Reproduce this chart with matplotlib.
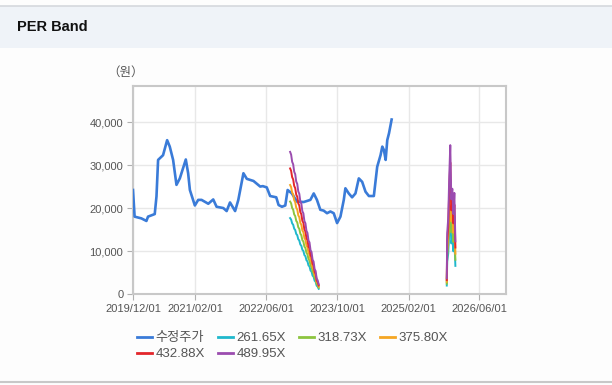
import datetime as dt
import pandas as pd
import matplotlib
matplotlib.use('Agg')
import matplotlib.pyplot as plt
import matplotlib.dates as mdates
from matplotlib.lines import Line2D
from matplotlib.patches import Rectangle

plt.rcParams['font.family'] = ['Liberation Sans', 'Noto Sans CJK KR', 'DejaVu Sans']

# 수정주가 (adjusted price)
price_dates = ['2019-12-01', '2019-12-12', '2020-01-27', '2020-03-02', '2020-03-13', '2020-04-28',
               '2020-05-10', '2020-05-21', '2020-06-24', '2020-07-22', '2020-08-09', '2020-09-01',
               '2020-09-24', '2020-10-17', '2020-11-27', '2020-12-13', '2020-12-25', '2021-01-28',
               '2021-02-20', '2021-03-15', '2021-04-30', '2021-06-03', '2021-06-26', '2021-08-11',
               '2021-09-03', '2021-09-26', '2021-10-31', '2021-11-22', '2021-12-27', '2022-01-19',
               '2022-03-06', '2022-04-21', '2022-05-09', '2022-06-05', '2022-06-28', '2022-08-09',
               '2022-08-25', '2022-09-17', '2022-10-10', '2022-10-26', '2022-11-24', '2022-12-29',
               '2023-02-13', '2023-03-31', '2023-04-23', '2023-05-15', '2023-06-07', '2023-06-30',
               '2023-07-23', '2023-08-15', '2023-09-07', '2023-09-30', '2023-10-23', '2023-11-15',
               '2023-11-26', '2023-12-19', '2024-01-11', '2024-02-03', '2024-02-26', '2024-03-20',
               '2024-04-12', '2024-05-05', '2024-06-08', '2024-07-01', '2024-07-24', '2024-08-05',
               '2024-08-16', '2024-08-28', '2024-09-08', '2024-09-20', '2024-10-08']
price_vals = [24200, 18000, 17600, 17000, 18000, 18600,
              22700, 31200, 32300, 35800, 34300, 31200,
              25400, 26900, 31300, 28100, 24200, 20600,
              21900, 21900, 21000, 22000, 20300, 20000,
              19300, 21300, 19300, 21900, 28100, 26800,
              26300, 25000, 25100, 24800, 22800, 22500,
              20700, 20300, 20600, 24200, 23400, 21500,
              21400, 21900, 23400, 21900, 19600, 19400,
              18800, 19200, 18800, 16500, 18000, 21900,
              24600, 23400, 22500, 23400, 26900, 26100,
              23800, 22800, 22800, 29600, 32300, 34300,
              33500, 31200, 35800, 37400, 40600]

# EPS used for the PER band lines
eps1_start = '2022-11-12'
eps1_vals = [67.5, 66.2, 62.8, 61.6, 58.1, 56.9, 53.4, 52.3, 48.7, 47.6, 44.0, 42.9, 39.3, 38.3,
             34.6, 33.6, 30.0, 29.0, 25.4, 24.5, 20.8, 19.9, 16.3, 15.4, 11.8, 10.9, 7.4, 6.5, 4.6]
eps2_dates = ['2025-10-21', '2025-10-24', '2025-10-31', '2025-11-07', '2025-11-14',
              '2025-11-21', '2025-11-28', '2025-12-05', '2025-12-12', '2025-12-19']
eps2_vals = [7.5, 29, 36, 56, 70.7, 45, 50, 38, 48, 25]

per_labels = ['261.65X', '318.73X', '375.80X', '432.88X', '489.95X']
per_mults = [261.65, 318.73, 375.80, 432.88, 489.95]
per_colors = ['#1fb8cc', '#8cc43f', '#f5a623', '#e3262b', '#9b4caf']

xtick_dates = ['2019-12-01', '2021-02-01', '2022-06-01', '2023-10-01', '2025-02-01', '2026-06-01']
yticks = [0, 10000, 20000, 30000, 40000]

W, H = 612, 385
fig = plt.figure(figsize=(W / 100, H / 100), dpi=100, facecolor='#fdfdfd')

# header strip
fig.patches.append(Rectangle((0, 1 - 48 / H), 1, 42 / H, transform=fig.transFigure,
                             facecolor='#eff3f8', edgecolor='none', zorder=0))
fig.add_artist(Line2D([0, 1], [1 - 6 / H, 1 - 6 / H], transform=fig.transFigure,
                      color='#d5d8dd', lw=1.2))
fig.add_artist(Line2D([0, 1], [1 - 382 / H, 1 - 382 / H], transform=fig.transFigure,
                      color='#c8c8c8', lw=1.5))
fig.text(17 / W, 1 - 27 / H, 'PER Band', fontsize=10.5, fontweight='bold',
         color='#111111', va='center', ha='left')

ax = fig.add_axes([133 / W, 1 - 294 / H, 373 / W, 208 / H])
ax.set_facecolor('white')

pd_price = pd.to_datetime(price_dates)
ax.plot(pd_price, price_vals, color='#3a7bd8', lw=1.9, zorder=3)

d1 = pd.date_range(eps1_start, periods=len(eps1_vals), freq='7D')
d2 = pd.to_datetime(eps2_dates)
for lab, m, c in zip(per_labels, per_mults, per_colors):
    ax.plot(d1, [e * m for e in eps1_vals], color=c, lw=1.4, zorder=4)
    ax.plot(d2, [e * m for e in eps2_vals], color=c, lw=1.4, zorder=4)

ax.set_xlim(dt.datetime(2019, 12, 1), dt.datetime(2026, 12, 1))
ax.set_ylim(0, 48400)
ax.set_xticks(pd.to_datetime(xtick_dates))
ax.xaxis.set_major_formatter(mdates.DateFormatter('%Y/%m/%d'))
ax.set_yticks(yticks)
ax.set_yticklabels(['{:,}'.format(v) for v in yticks])
ax.grid(True, color='#e8e8e8', lw=1)
ax.set_axisbelow(True)
for s in ax.spines.values():
    s.set_color('#c8c8c8')
    s.set_linewidth(1.5)
ax.tick_params(length=4, color='#b0b0b0', labelcolor='#555555', labelsize=8, pad=3)

fig.text(126 / W, 1 - 73 / H, '（원）', fontsize=9, color='#555555', ha='center', va='center')

handles = [Line2D([], [], color='#3a7bd8', lw=2)] + \
          [Line2D([], [], color=c, lw=2) for c in per_colors]
labels = ['수정주가'] + per_labels
order = [0, 4, 1, 5, 2, 3]
leg = fig.legend([handles[i] for i in order], [labels[i] for i in order],
                 loc='upper left', bbox_to_anchor=(137 / W, 1 - 332 / H), ncol=4,
                 frameon=False, fontsize=9.5, handlelength=1.1, handletextpad=0.3,
                 columnspacing=1.0, labelspacing=0.3, borderaxespad=0, borderpad=0)
for t in leg.get_texts():
    t.set_color('#555555')

fig.savefig('out.png', dpi=100, facecolor=fig.get_facecolor())
